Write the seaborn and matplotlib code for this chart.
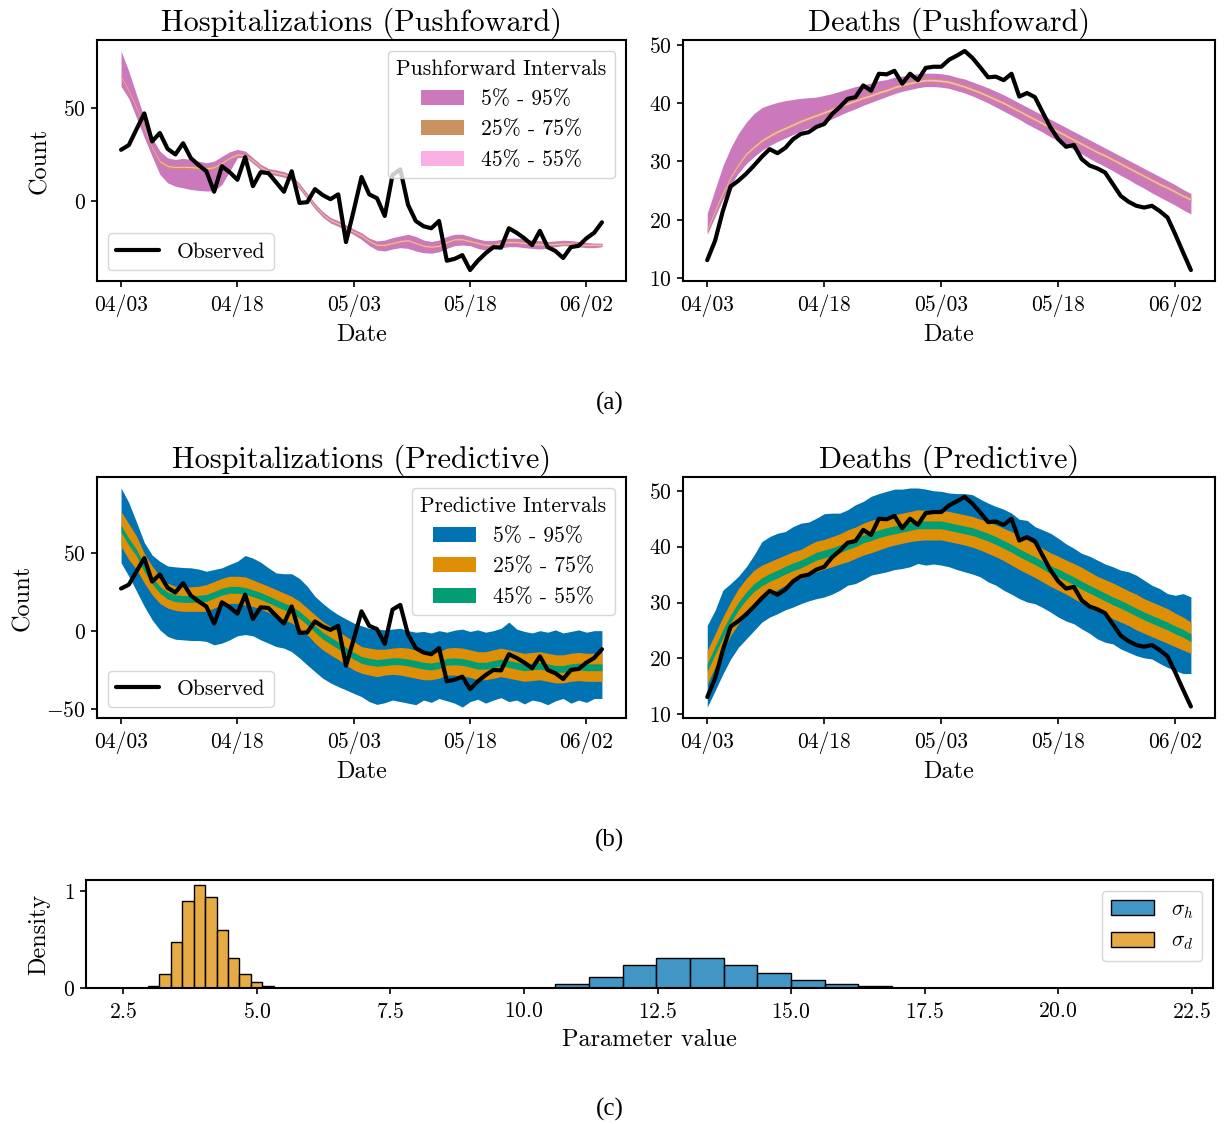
import numpy as np
import pandas as pd
import matplotlib
matplotlib.use("Agg")
import matplotlib.pyplot as plt
from matplotlib.ticker import MultipleLocator
from matplotlib.patches import Patch
from matplotlib.colors import to_rgba
import seaborn as sns

# ---------------- data ----------------
start_date = "2020-04-03"
n_days = 63
date_ticks = ["04/03", "04/18", "05/03", "05/18", "06/02"]
interval_labels = ["5% - 95%", "25% - 75%", "45% - 55%"]

obs_hosp = [27.5, 30, 38.6, 47, 32, 36.5, 28, 25, 31, 23,
            19.3, 16, 5, 18.7, 15.5, 11.4, 23.6, 8, 15.5, 15,
            10, 5, 16, -1, -0.6, 6.4, 3.2, 1, 3.6, -22,
            -5, 12.9, 3.6, 1.5, -8, 14, 17, -2, -10.7, -13.5,
            -14.6, -10.7, -32, -31, -29, -37, -32, -28, -24.7, -25,
            -14.6, -17, -20, -23.6, -16, -24.7, -26.8, -30.5, -24.7, -24,
            -20, -17, -11.4]

obs_death = [13.1, 16.4, 21.5, 25.7, 26.7, 27.9, 29.3, 30.8, 32.1, 31.4,
             32.3, 33.8, 34.7, 35, 35.9, 36.4, 38.1, 39.3, 40.7, 41,
             43, 42.1, 45, 44.9, 45.5, 43.3, 45, 43.9, 46, 46.2,
             46.2, 47.4, 48.1, 48.9, 47.7, 46.1, 44.4, 44.5, 43.9, 45,
             41.1, 41.7, 41, 38.4, 35.8, 33.8, 32.5, 32.8, 30.4, 29.3,
             28.8, 28.1, 26.1, 24.1, 23.1, 22.4, 22.1, 22.4, 21.5, 20.4,
             17.5, 14.4, 11.4]

# Hospitalizations, pushforward quantiles
push_h_q05 = [61.5, 55, 44.6, 34, 24, 14.3, 9.8, 8, 7.1, 6.2,
              5.7, 5.4, 5.4, 8.9, 16, 23.2, 23.6, 20.3, 16.7, 14.5,
              13.7, 12.8, 11, 6.5, 1.2, -4.2, -8.6, -11.8, -13.5, -15.8,
              -18, -20.6, -23.9, -26.3, -26.8, -25.7, -25, -25.4, -26.8, -27.7,
              -28, -27.2, -25.4, -23.9, -23.6, -23.9, -25.4, -26.3, -25.7, -25,
              -24.5, -24.5, -25, -25.4, -25.7, -25.4, -24.5, -23.9, -24.1, -24.5,
              -25, -25, -24.5]
push_h_q95 = [80.5, 69.6, 57, 44.6, 34, 26.8, 23.2, 22.3, 22.9, 22.3,
              21.4, 20.5, 21.4, 24, 26.4, 27.7, 26.8, 23.3, 19.7, 17.5,
              16.7, 15.8, 14, 9.5, 4.2, -1.2, -5.6, -8.8, -10.5, -12.8,
              -15, -17, -19.9, -21.4, -20.9, -19.6, -18.7, -17.8, -19, -20.9,
              -21.7, -20.9, -19, -17.8, -17.8, -19, -20.3, -21.2, -21.2, -20.5,
              -19.9, -19.9, -20.3, -20.9, -21.2, -21.7, -21.4, -21, -21.2, -21.7,
              -22.2, -22.6, -22.6]
push_h_q25 = [66.2, 58.2, 49.2, 38.2, 27.8, 20.2, 17.6, 17, 17.2, 17,
              16.7, 16.3, 17, 19.7, 22.4, 24.2, 23.8, 21, 17.4, 15.2,
              14.4, 13.5, 11.7, 7.2, 1.9, -3.5, -7.9, -11.1, -12.8, -15.1,
              -17.3, -19.3, -22.3, -24.3, -24.3, -23.3, -22.3, -21.8, -23.3, -24.8,
              -25.3, -24.8, -22.8, -21.3, -21.3, -22.3, -23.3, -24.3, -24.3, -23.3,
              -22.8, -22.8, -23.3, -23.8, -24, -24.1, -23.8, -23.6, -23.6, -24,
              -24.3, -24.3, -24.3]
push_h_q75 = [67.8, 59.8, 50.8, 39.8, 29.4, 22.4, 19.8, 19.2, 19.4, 19.2,
              18.9, 18.5, 19.2, 21.3, 24, 25.8, 25.4, 22.6, 19, 16.8,
              16, 15.1, 13.3, 8.8, 3.5, -1.9, -6.3, -9.5, -11.2, -13.5,
              -15.7, -17.7, -20.7, -22.7, -22.7, -21.7, -20.7, -20.2, -21.7, -23.2,
              -23.7, -23.2, -21.2, -19.7, -19.7, -20.7, -21.7, -22.7, -22.7, -21.7,
              -21.2, -21.2, -21.7, -22.2, -22.4, -22.5, -22.2, -22, -22, -22.4,
              -22.7, -22.7, -22.7]
push_h_q45 = [66.7, 58.7, 49.7, 38.7, 28.3, 21.1, 18.5, 17.9, 18.1, 17.9,
              17.6, 17.2, 17.9, 20.2, 22.9, 24.7, 24.3, 21.5, 17.9, 15.7,
              14.9, 14, 12.2, 7.7, 2.4, -3, -7.4, -10.6, -12.3, -14.6,
              -16.8, -18.8, -21.8, -23.8, -23.8, -22.8, -21.8, -21.3, -22.8, -24.3,
              -24.8, -24.3, -22.3, -20.8, -20.8, -21.8, -22.8, -23.8, -23.8, -22.8,
              -22.3, -22.3, -22.8, -23.3, -23.5, -23.6, -23.3, -23.1, -23.1, -23.5,
              -23.8, -23.8, -23.8]
push_h_q55 = [67.3, 59.3, 50.3, 39.3, 28.9, 21.7, 19.1, 18.5, 18.7, 18.5,
              18.2, 17.8, 18.5, 20.8, 23.5, 25.3, 24.9, 22.1, 18.5, 16.3,
              15.5, 14.6, 12.8, 8.3, 3, -2.4, -6.8, -10, -11.7, -14,
              -16.2, -18.2, -21.2, -23.2, -23.2, -22.2, -21.2, -20.7, -22.2, -23.7,
              -24.2, -23.7, -21.7, -20.2, -20.2, -21.2, -22.2, -23.2, -23.2, -22.2,
              -21.7, -21.7, -22.2, -22.7, -22.9, -23, -22.7, -22.5, -22.5, -22.9,
              -23.2, -23.2, -23.2]

# Deaths, pushforward quantiles
push_d_q05 = [17.5, 20.5, 23.5, 26.0, 28.0, 29.6, 30.8, 31.9, 32.7, 33.4,
              34.0, 34.6, 35.2, 35.7, 36.2, 36.7, 37.3, 37.9, 38.5, 39.0,
              39.6, 40.1, 40.6, 41.1, 41.6, 42.0, 42.3, 42.6, 42.8, 42.8,
              42.7, 42.5, 42.1, 41.7, 41.2, 40.6, 40.0, 39.3, 38.6, 37.9,
              37.2, 36.4, 35.7, 35.0, 34.2, 33.5, 32.8, 32.0, 31.3, 30.5,
              29.8, 29.1, 28.4, 27.6, 26.9, 26.1, 25.4, 24.6, 23.9, 23.2,
              22.5, 21.7, 21.0]
push_d_q95 = [21.1, 25.2, 29.2, 32.3, 34.8, 36.7, 38.2, 39.2, 39.7, 40.1,
              40.4, 40.6, 40.8, 40.9, 41.0, 41.3, 41.6, 42.0, 42.4, 42.8,
              43.1, 43.4, 43.8, 44.0, 44.4, 44.6, 44.8, 45.0, 45.1, 45.1,
              45.0, 44.8, 44.4, 44.1, 43.6, 43.1, 42.6, 42.0, 41.4, 40.7,
              40.0, 39.3, 38.6, 37.9, 37.2, 36.5, 35.8, 35.1, 34.4, 33.7,
              33.0, 32.3, 31.6, 30.9, 30.2, 29.5, 28.8, 28.1, 27.4, 26.7,
              26.0, 25.2, 24.5]
push_d_q25 = [17.9, 21.2, 24.2, 26.9, 29.1, 30.9, 32.1, 33.2, 34.0, 34.7,
              35.3, 35.9, 36.5, 37.0, 37.5, 38.0, 38.5, 39.0, 39.5, 40.0,
              40.5, 40.9, 41.4, 41.8, 42.3, 42.7, 43.0, 43.3, 43.5, 43.5,
              43.4, 43.2, 42.8, 42.4, 41.9, 41.4, 40.8, 40.2, 39.6, 38.9,
              38.2, 37.5, 36.8, 36.1, 35.4, 34.7, 34.0, 33.3, 32.6, 31.9,
              31.2, 30.6, 29.9, 29.2, 28.5, 27.8, 27.1, 26.4, 25.7, 25.1,
              24.4, 23.7, 23.1]
push_d_q75 = [18.7, 22.0, 25.0, 27.7, 29.9, 31.7, 32.9, 34.0, 34.8, 35.5,
              36.1, 36.7, 37.3, 37.8, 38.3, 38.8, 39.3, 39.8, 40.3, 40.8,
              41.3, 41.7, 42.2, 42.6, 43.1, 43.5, 43.8, 44.1, 44.3, 44.3,
              44.2, 44.0, 43.6, 43.2, 42.7, 42.2, 41.6, 41.0, 40.4, 39.7,
              39.0, 38.3, 37.6, 36.9, 36.2, 35.5, 34.8, 34.1, 33.4, 32.7,
              32.0, 31.4, 30.7, 30.0, 29.3, 28.6, 27.9, 27.2, 26.5, 25.9,
              25.2, 24.5, 23.9]
push_d_q45 = [18.15, 21.45, 24.45, 27.15, 29.35, 31.15, 32.35, 33.45, 34.25, 34.95,
              35.55, 36.15, 36.75, 37.25, 37.75, 38.25, 38.75, 39.25, 39.75, 40.25,
              40.75, 41.15, 41.65, 42.05, 42.55, 42.95, 43.25, 43.55, 43.75, 43.75,
              43.65, 43.45, 43.05, 42.65, 42.15, 41.65, 41.05, 40.45, 39.85, 39.15,
              38.45, 37.75, 37.05, 36.35, 35.65, 34.95, 34.25, 33.55, 32.85, 32.15,
              31.45, 30.85, 30.15, 29.45, 28.75, 28.05, 27.35, 26.65, 25.95, 25.35,
              24.65, 23.95, 23.35]
push_d_q55 = [18.45, 21.75, 24.75, 27.45, 29.65, 31.45, 32.65, 33.75, 34.55, 35.25,
              35.85, 36.45, 37.05, 37.55, 38.05, 38.55, 39.05, 39.55, 40.05, 40.55,
              41.05, 41.45, 41.95, 42.35, 42.85, 43.25, 43.55, 43.85, 44.05, 44.05,
              43.95, 43.75, 43.35, 42.95, 42.45, 41.95, 41.35, 40.75, 40.15, 39.45,
              38.75, 38.05, 37.35, 36.65, 35.95, 35.25, 34.55, 33.85, 33.15, 32.45,
              31.75, 31.15, 30.45, 29.75, 29.05, 28.35, 27.65, 26.95, 26.25, 25.65,
              24.95, 24.25, 23.65]

# Hospitalizations, predictive quantiles
pred_h_q05 = [44, 35.4, 25.8, 16, 7.5, 1, -3.2, -5, -5.4, -5.8,
              -5.8, -6.4, -8.6, -7.5, -5.4, -2.8, -2, -2.8, -5.4, -7.5,
              -9.7, -10.7, -13, -17, -21.5, -25.8, -30, -33, -35.4, -37.5,
              -39.7, -41.8, -45, -46.8, -45.7, -44, -45, -46, -47, -44,
              -45.5, -43, -44.5, -46, -48.5, -45, -43.5, -46, -44, -42.5,
              -45, -44, -46.5, -44, -45, -47, -44.5, -43, -46, -44,
              -45.5, -43, -43]
pred_h_q95 = [92, 82.6, 70, 57, 49, 45, 42, 41.4, 41, 40.8,
              40, 38.6, 39.7, 40.8, 43, 45, 48.7, 47, 44.4, 40.8,
              37.5, 37, 37, 34, 29, 22.5, 18, 14, 10.7, 8,
              5.4, 3.6, 2, 1.5, 1, 1.5, 2, 0.5, -0.5, 0,
              -1, 0.5, -0.5, 0.8, 1.5, 0, 1, -0.5, 0.5, 2,
              6, 1.5, 0, -1, 0.5, -0.5, 1, -1, 0, 1,
              -0.5, 0.5, 0.5]
pred_h_q25 = [54.7, 46, 39.7, 31, 23.6, 18, 15, 13.5, 12.9, 12.9,
              12.9, 12.9, 15, 17, 18, 18, 17, 16, 14.4, 12.2,
              9.7, 7.5, 5.4, 2, -2, -7.5, -11.8, -15, -18, -21.5,
              -24.7, -26.8, -28, -29, -28, -27.5, -28, -29, -30, -31,
              -31, -30, -28, -28, -28.5, -29.5, -31, -31, -30, -29,
              -30, -31, -32, -31.5, -31, -32, -33, -33, -32, -31.5,
              -32, -32, -32]
pred_h_q75 = [77, 69, 61, 50, 42, 35.4, 31, 29, 28.6, 28.6,
              29, 30, 32, 34, 35.4, 35.4, 35, 33, 31, 29,
              26.8, 24.7, 22.5, 19.3, 15, 10.7, 6.4, 3.2, 0, -3.2,
              -6.4, -9.7, -10.7, -11.4, -11.4, -10.7, -10.3, -10.7, -11.8, -13,
              -14, -13, -10.7, -10.3, -10.7, -11.8, -13, -13, -11.8, -10.7,
              -11.8, -13, -14, -13.5, -13, -14, -15, -15, -14, -13.5,
              -14, -14, -14]
pred_h_q45 = [63.7, 55.3, 48.2, 38.3, 30.6, 24.5, 20.8, 19.1, 18.6, 18.6,
              18.8, 19.3, 21.3, 23.3, 24.5, 24.5, 23.8, 22.3, 20.5, 18.4,
              16.1, 13.9, 11.8, 8.5, 4.3, -0.6, -4.9, -8.1, -11.2, -14.6,
              -17.8, -20.5, -21.6, -22.4, -21.9, -21.3, -21.4, -22.1, -23.1, -24.2,
              -24.7, -23.7, -21.6, -21.4, -21.8, -22.9, -24.2, -24.2, -23.1, -22.1,
              -23.1, -24.2, -25.2, -24.7, -24.2, -25.2, -26.2, -26.2, -25.2, -24.7,
              -25.2, -25.2, -25.2]
pred_h_q55 = [68.1, 59.7, 52.6, 42.7, 35, 28.9, 25.2, 23.5, 23, 23,
              23.2, 23.7, 25.7, 27.7, 28.9, 28.9, 28.2, 26.7, 24.9, 22.8,
              20.5, 18.3, 16.2, 12.9, 8.7, 3.8, -0.5, -3.7, -6.8, -10.2,
              -13.4, -16.1, -17.2, -18, -17.5, -16.9, -17, -17.7, -18.7, -19.8,
              -20.3, -19.3, -17.2, -17, -17.4, -18.5, -19.8, -19.8, -18.7, -17.7,
              -18.7, -19.8, -20.8, -20.3, -19.8, -20.8, -21.8, -21.8, -20.8, -20.3,
              -20.8, -20.8, -20.8]

# Deaths, predictive quantiles
pred_d_q05 = [11.3, 14.2, 17.2, 19.9, 22, 23.5, 25, 26.5, 27.4, 28,
              28.7, 29.2, 29.8, 30.3, 30.7, 31, 31.5, 32.2, 33.1, 33.4,
              34.1, 34.9, 35.2, 35.5, 35.9, 36.1, 36.4, 37, 36.7, 36.9,
              36.7, 36.4, 35.9, 35.5, 35.1, 34.6, 33.7, 33.1, 32.2, 31.5,
              30.7, 30.1, 29.8, 29.1, 28.3, 27.4, 26.7, 26.2, 25.3, 24.5,
              23.5, 22.9, 22.6, 21.7, 21.1, 20.5, 20.1, 19.9, 19.1, 18.4,
              17.8, 17.3, 17.3]
pred_d_q95 = [25.9, 28.6, 32.2, 33.4, 34.7, 36.4, 38.5, 40.9, 41.8, 42.4,
              42.7, 43.6, 44.2, 44.4, 45.1, 45.9, 46, 46, 46.6, 47.5,
              48.1, 49, 49.5, 49.9, 50.3, 50.3, 50.5, 50.5, 50.3, 50,
              49.9, 49.6, 49.5, 49.5, 49.3, 48.5, 47.8, 47.2, 46.7, 46,
              44.9, 44.7, 43.6, 43, 42.4, 41.5, 40.5, 39.7, 38.8, 38.3,
              37.6, 36.9, 36.4, 35.8, 35.5, 34.9, 34, 33.1, 32.5, 31.6,
              31.3, 31.6, 31]
pred_d_q25 = [15.4, 18.4, 21.4, 24.1, 26.2, 28, 29.5, 30.7, 31.6, 32.3,
              33.1, 33.7, 34.3, 34.9, 35.5, 36, 36.4, 36.9, 37.3, 37.9,
              38.5, 38.9, 39.4, 39.9, 40.3, 40.6, 40.9, 41.1, 41.2, 41.2,
              41.2, 40.9, 40.6, 40.3, 39.9, 39.4, 38.8, 38.2, 37.5, 36.7,
              35.9, 35.2, 34.5, 33.7, 32.9, 32.2, 31.5, 30.7, 29.9, 29.2,
              28.6, 27.9, 27.1, 26.5, 25.9, 25.1, 24.5, 23.9, 23.3, 22.7,
              22.1, 21.5, 20.9]
pred_d_q75 = [21.4, 24.4, 27.4, 30.1, 32.5, 34.3, 35.8, 36.7, 37.3, 37.9,
              38.5, 39.1, 39.5, 40.3, 41, 41.3, 41.8, 42.3, 43, 43.5,
              44.2, 44.7, 45.1, 45.4, 45.7, 46, 46.3, 46.6, 46.5, 46.6,
              46.5, 46.3, 46, 45.7, 45.4, 44.9, 44.5, 43.9, 43.3, 42.7,
              41.9, 41.2, 40.5, 39.7, 38.9, 38.3, 37.6, 37, 36.3, 35.5,
              34.7, 34.1, 33.5, 32.8, 32.1, 31.5, 30.7, 30.1, 29.5, 28.9,
              28.1, 27.4, 26.5]
pred_d_q45 = [17.7, 20.7, 23.7, 26.4, 28.7, 30.5, 32, 33, 33.8, 34.4,
              35.1, 35.7, 36.2, 36.9, 37.6, 38, 38.4, 38.9, 39.5, 40,
              40.7, 41.1, 41.6, 42, 42.3, 42.6, 42.9, 43.2, 43.2, 43.2,
              43.2, 42.9, 42.6, 42.3, 42, 41.5, 41, 40.4, 39.7, 39,
              38.2, 37.5, 36.8, 36, 35.2, 34.6, 33.9, 33.2, 32.4, 31.7,
              31, 30.3, 29.6, 29, 28.3, 27.6, 26.9, 26.3, 25.7, 25.1,
              24.4, 23.8, 23]
pred_d_q55 = [19.1, 22.1, 25.1, 27.8, 30.1, 31.9, 33.4, 34.4, 35.2, 35.8,
              36.5, 37.1, 37.6, 38.3, 39, 39.4, 39.8, 40.3, 40.9, 41.4,
              42.1, 42.5, 43, 43.4, 43.7, 44, 44.3, 44.6, 44.6, 44.6,
              44.6, 44.3, 44, 43.7, 43.4, 42.9, 42.4, 41.8, 41.1, 40.4,
              39.6, 38.9, 38.2, 37.4, 36.6, 36, 35.3, 34.6, 33.8, 33.1,
              32.4, 31.7, 31, 30.4, 29.7, 29, 28.3, 27.7, 27.1, 26.5,
              25.8, 25.2, 24.4]

# Posterior histograms (density per bin)
sigma_h_edges = [10.59, 11.22, 11.85, 12.48, 13.11, 13.74, 14.37, 15.0, 15.63, 16.26, 16.89]
sigma_h_density = [0.037, 0.11, 0.234, 0.31, 0.31, 0.237, 0.153, 0.078, 0.04, 0.017]
sigma_d_edges = [2.96, 3.174, 3.388, 3.602, 3.816, 4.03, 4.244, 4.458, 4.672, 4.886, 5.1, 5.314]
sigma_d_density = [0.02, 0.14, 0.48, 0.90, 1.065, 0.94, 0.60, 0.31, 0.14, 0.06, 0.02]

# sanity check on series lengths
_series = {k: v for k, v in dict(globals()).items()
           if isinstance(v, list) and (k.startswith("push_") or k.startswith("pred_") or k.startswith("obs_"))}
_bad = {k: len(v) for k, v in _series.items() if len(v) != n_days}
if _bad:
    raise SystemExit(f"bad lengths: {_bad}")

# ---------------- style ----------------
sns.set_theme(style="ticks", rc={
    "axes.edgecolor": "black",
    "axes.linewidth": 1.5,
    "axes.labelcolor": "black",
    "text.color": "black",
    "xtick.color": "black",
    "ytick.color": "black",
    "xtick.major.size": 4.5,
    "ytick.major.size": 4.5,
    "xtick.major.width": 1.2,
    "ytick.major.width": 1.2,
    "xtick.major.pad": 5.5,
    "xtick.labelsize": 15.5,
    "ytick.labelsize": 15.5,
    "axes.labelsize": 17.5,
    "axes.labelpad": 5.0,
    "axes.titlesize": 21.8,
    "legend.fontsize": 15.5,
    "legend.title_fontsize": 15.5,
})
plt.rcParams["font.family"] = ["cmr10", "DejaVu Serif"]
plt.rcParams["mathtext.fontset"] = "cm"
plt.rcParams["axes.formatter.use_mathtext"] = True
plt.rcParams["legend.frameon"] = True
plt.rcParams["legend.framealpha"] = 0.8
plt.rcParams["legend.edgecolor"] = "0.8"
plt.rcParams["legend.fancybox"] = True

pal = sns.color_palette("colorblind")
push_colors = [pal[4], pal[5], pal[6]]
pred_colors = [pal[0], pal[1], pal[2]]

dates = pd.date_range(start_date, periods=n_days)

fig = plt.figure(figsize=(12.25, 11.24), dpi=100)
ax_tl = fig.add_axes([0.0792, 0.7500, 0.4318, 0.2144])
ax_tr = fig.add_axes([0.5576, 0.7500, 0.4343, 0.2144])
ax_ml = fig.add_axes([0.0792, 0.3612, 0.4318, 0.2144])
ax_mr = fig.add_axes([0.5576, 0.3612, 0.4343, 0.2144])
ax_h = fig.add_axes([0.0702, 0.1210, 0.9200, 0.0961])


def draw_panel(ax, bands, colors, obs, title, ylabel, legend_title, ystep):
    handles = []
    for (lo, hi), c in zip(bands, colors):
        h = ax.fill_between(dates, lo, hi, color=c, linewidth=0)
        handles.append(h)
    sns.lineplot(x=dates, y=obs, color="black", linewidth=3.0, ax=ax,
                 legend=False, zorder=4)
    line = ax.lines[-1]
    ax.set_title(title, pad=7)
    ax.set_xlabel("Date")
    ax.set_ylabel(ylabel if ylabel else "", labelpad=9)
    ax.set_xticks(dates[::15])
    ax.set_xticklabels(date_ticks)
    ax.yaxis.set_major_locator(MultipleLocator(ystep))
    for sp in ax.spines.values():
        sp.set_visible(True)
        sp.set_linewidth(1.5)
        sp.set_color("black")
    if legend_title:
        leg1 = ax.legend(handles, interval_labels, title=legend_title,
                         loc="upper right")
        ax.add_artist(leg1)
        ax.legend([line], ["Observed"], loc="lower left")


draw_panel(ax_tl,
           [(push_h_q05, push_h_q95), (push_h_q25, push_h_q75), (push_h_q45, push_h_q55)],
           push_colors, obs_hosp, "Hospitalizations (Pushfoward)", "Count",
           "Pushforward Intervals", 50)
draw_panel(ax_tr,
           [(push_d_q05, push_d_q95), (push_d_q25, push_d_q75), (push_d_q45, push_d_q55)],
           push_colors, obs_death, "Deaths (Pushfoward)", None, None, 10)
draw_panel(ax_ml,
           [(pred_h_q05, pred_h_q95), (pred_h_q25, pred_h_q75), (pred_h_q45, pred_h_q55)],
           pred_colors, obs_hosp, "Hospitalizations (Predictive)", "Count",
           "Predictive Intervals", 50)
draw_panel(ax_mr,
           [(pred_d_q05, pred_d_q95), (pred_d_q25, pred_d_q75), (pred_d_q45, pred_d_q55)],
           pred_colors, obs_death, "Deaths (Predictive)", None, None, 10)

# ---------------- histogram panel ----------------
sh_e = np.array(sigma_h_edges)
sd_e = np.array(sigma_d_edges)
hist_h = pd.DataFrame({"value": (sh_e[:-1] + sh_e[1:]) / 2, "w": sigma_h_density})
hist_d = pd.DataFrame({"value": (sd_e[:-1] + sd_e[1:]) / 2, "w": sigma_d_density})
sns.histplot(data=hist_h, x="value", weights="w", bins=list(sigma_h_edges),
             stat="count", color=pal[0], alpha=0.75,
             edgecolor="black", linewidth=1.0, ax=ax_h)
sns.histplot(data=hist_d, x="value", weights="w", bins=list(sigma_d_edges),
             stat="count", color=pal[1], alpha=0.75,
             edgecolor="black", linewidth=1.0, ax=ax_h)
ax_h.set_xlim(1.8, 22.9)
ax_h.set_yticks([0, 1])
ax_h.set_xlabel("Parameter value")
ax_h.set_ylabel("Density", labelpad=9)
for sp in ax_h.spines.values():
    sp.set_visible(True)
    sp.set_linewidth(1.5)
    sp.set_color("black")
hist_handles = [Patch(facecolor=to_rgba(pal[0], 0.75), edgecolor="black", linewidth=1.0),
                Patch(facecolor=to_rgba(pal[1], 0.75), edgecolor="black", linewidth=1.0)]
ax_h.legend(hist_handles, [r"$\sigma_h$", r"$\sigma_d$"], loc="upper right")

# ---------------- sub-captions ----------------
for label, ypos in [("(a)", 0.6415), ("(b)", 0.2527), ("(c)", 0.0125)]:
    fig.text(0.4975, ypos, label, ha="center", va="center",
             family=["Liberation Serif", "DejaVu Serif"], fontsize=18)

fig.savefig("out.png", dpi=100)
